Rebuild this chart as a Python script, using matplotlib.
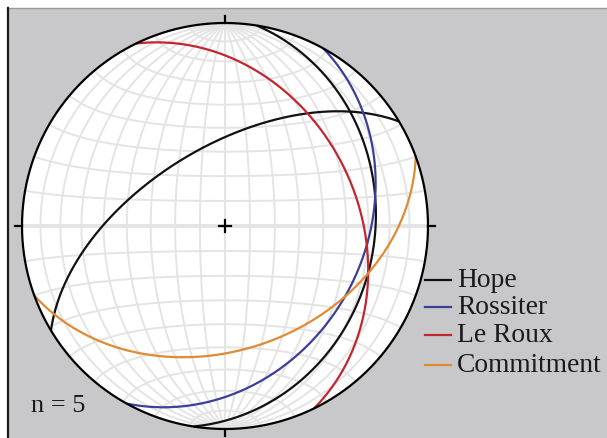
import numpy as np
import matplotlib
matplotlib.use('Agg')
import matplotlib.pyplot as plt
from matplotlib.patches import Rectangle

# ---------------- data ----------------
plane_names = ['Hope', 'Hope', 'Rossiter', 'Le Roux', 'Commitment']
strikes = [9, 239, 29, 334, 70]     # right-hand-rule strike (deg)
dips = [27, 58, 32, 35, 39]          # dip (deg)
legend_labels = ['Hope', 'Rossiter', 'Le Roux', 'Commitment']
colors = {'Hope': '#111111', 'Rossiter': '#3c3f98', 'Le Roux': '#c3262e', 'Commitment': '#e08a34'}
n_label = 'n = 5'
grid_step = 10

W, H, DPI = 607, 439, 100
CX, CY, R = 225, 227, 203   # net centre / radius in pixels

plt.rcParams['font.family'] = ['Liberation Serif', 'DejaVu Serif']

fig = plt.figure(figsize=(W / DPI, H / DPI), dpi=DPI, facecolor='white')

# background axes in pixel coordinates
bg = fig.add_axes([0, 0, 1, 1])
bg.set_xlim(0, W)
bg.set_ylim(H, 0)
bg.axis('off')
bg.add_patch(Rectangle((7, 9), W - 7, H - 9, facecolor='#c8c8ca', edgecolor='none'))
bg.plot([7, W], [9, 9], color='#9a9a9a', lw=1.0)
bg.plot([7.5, 7.5], [9, H], color='#1a1a1a', lw=1.6)

# net axes
pad = 1.06
ax = fig.add_axes([(CX - pad * R) / W, (H - CY - pad * R) / H, 2 * pad * R / W, 2 * pad * R / H])
ax.set_xlim(-pad, pad)
ax.set_ylim(-pad, pad)
ax.axis('off')
ax.set_facecolor('none')


def project(N, E, D):
    k = 1.0 / np.sqrt(1.0 + D)
    return E * k, N * k


# white net disc
th = np.linspace(0, 2 * np.pi, 721)
ax.fill(np.cos(th), np.sin(th), color='white', zorder=1)

gcol = '#e4e4e4'
phi = np.radians(np.linspace(-90, 90, 361))
for lam_d in np.arange(-90 + grid_step, 90, grid_step):
    lam = np.radians(lam_d)
    x, y = project(np.sin(phi), np.cos(phi) * np.sin(lam), np.cos(phi) * np.cos(lam))
    ax.plot(x, y, color=gcol, lw=1.4, zorder=2)
lam_all = np.radians(np.linspace(-90, 90, 361))
for phi_d in np.arange(-90 + grid_step, 90, grid_step):
    p = np.radians(phi_d)
    x, y = project(np.sin(p) * np.ones_like(lam_all), np.cos(p) * np.sin(lam_all), np.cos(p) * np.cos(lam_all))
    ax.plot(x, y, color=gcol, lw=2.8 if phi_d == 0 else 1.4, zorder=2)


def plane_xy(strike, dip, n=400):
    s = np.radians(strike)
    d = np.radians(dip)
    t = np.linspace(0, np.pi, n)
    dd = s + np.pi / 2
    sv = np.array([np.cos(s), np.sin(s), 0.0])
    dv = np.array([np.cos(d) * np.cos(dd), np.cos(d) * np.sin(dd), np.sin(d)])
    v = np.outer(np.cos(t), sv) + np.outer(np.sin(t), dv)
    return project(v[:, 0], v[:, 1], v[:, 2])


for name, s, d in zip(plane_names, strikes, dips):
    x, y = plane_xy(s, d)
    ax.plot(x, y, color=colors[name], lw=1.6, zorder=4, solid_capstyle='butt')

# primitive, ticks, centre cross
ax.plot(np.cos(th), np.sin(th), color='black', lw=1.6, zorder=5)
tk = 7 / R
ax.plot([0, 0], [1, 1 + tk], color='black', lw=1.6, zorder=5)
ax.plot([0, 0], [-1, -1 - tk], color='black', lw=1.6, zorder=5)
ax.plot([1, 1 + tk], [0, 0], color='black', lw=1.6, zorder=5)
ax.plot([-1, -1 - tk], [0, 0], color='black', lw=1.6, zorder=5)
cc = 6 / R
ax.plot([-cc, cc], [0, 0], color='black', lw=1.6, zorder=5)
ax.plot([0, 0], [-cc, cc], color='black', lw=1.6, zorder=5)

# legend (manual)
base_y = [287, 314, 342, 372]
for lab, by in zip(legend_labels, base_y):
    bg.plot([425, 451], [by - 6, by - 6], color=colors[lab], lw=1.6)
    bg.text(457, by, lab, fontsize=19.8, va='baseline', ha='left', color='#1a1a1a')

bg.text(31, 412, n_label, fontsize=19, va='baseline', ha='left', color='#1a1a1a')

fig.savefig('out.png', dpi=DPI, facecolor='white')
